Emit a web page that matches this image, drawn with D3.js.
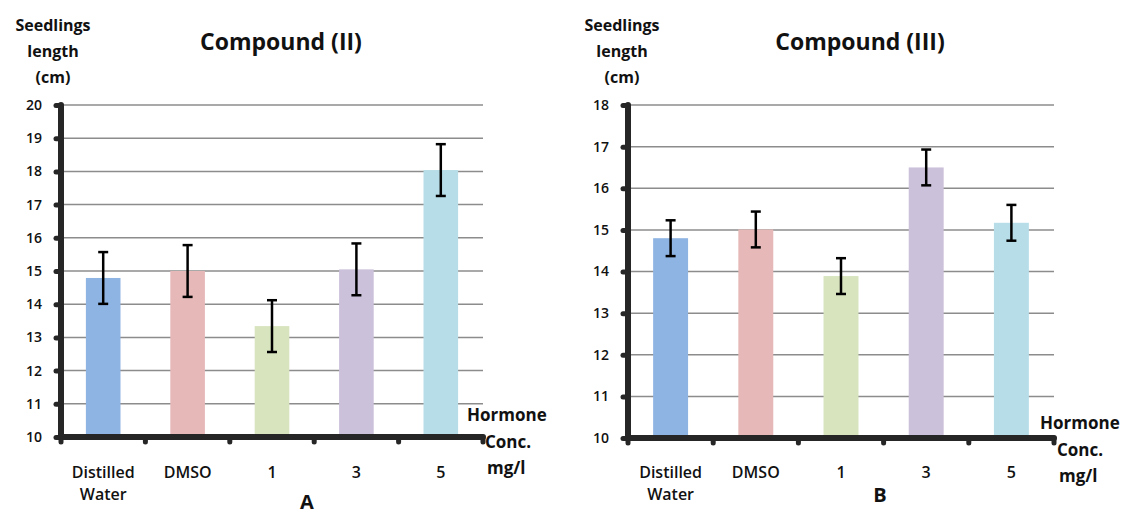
<!DOCTYPE html>
<html>
<head>
<meta charset="utf-8">
<script src="https://cdn.jsdelivr.net/npm/d3@7"></script>
<style>
  body { margin: 0; background: #fff; }
  svg text { font-family: "Open Sans", Lato, sans-serif; fill: #111; }
</style>
</head>
<body>
<div id="chart"></div>
<script>
// data
var categories = ["Distilled Water", "DMSO", "1", "3", "5"];
var barColors = ["#8eb4e3", "#e6b9b8", "#d7e4bd", "#ccc1da", "#b7dee8"];

var compound2Means = [14.79, 15.0, 13.34, 15.05, 18.04];
var compound2Errors = [0.78, 0.78, 0.78, 0.78, 0.78];
var compound2Ticks = [10, 11, 12, 13, 14, 15, 16, 17, 18, 19, 20];

var compound3Means = [14.8, 15.01, 13.89, 16.5, 15.17];
var compound3Errors = [0.43, 0.43, 0.43, 0.43, 0.43];
var compound3Ticks = [10, 11, 12, 13, 14, 15, 16, 17, 18];

var svg = d3.select("#chart")
  .append("svg")
  .attr("width", 1139)
  .attr("height", 516);

function drawPanel(opts) {
  var left = opts.left, top = 105, bottom = opts.bottom, right = opts.right;

  var x = d3.scaleBand()
    .domain(categories)
    .range([left, right]);

  var y = d3.scaleLinear()
    .domain([opts.ticks[0], opts.ticks[opts.ticks.length - 1]])
    .range([bottom, top]);

  var data = categories.map(function(c, i) {
    return { cat: c, value: opts.means[i], err: opts.errors[i], color: barColors[i] };
  });

  var g = svg.append("g");

  // gridlines
  g.selectAll(".grid")
    .data(opts.ticks.slice(1))
    .enter().append("line")
    .attr("x1", left).attr("x2", right)
    .attr("y1", function(d) { return y(d); })
    .attr("y2", function(d) { return y(d); })
    .attr("stroke", "#8c8c8c")
    .attr("stroke-width", 1.5);

  // bars
  var barW = x.bandwidth() * 0.41;
  g.selectAll(".bar")
    .data(data)
    .enter().append("rect")
    .attr("x", function(d) { return x(d.cat) + x.bandwidth() / 2 - barW / 2; })
    .attr("y", function(d) { return y(d.value); })
    .attr("width", barW)
    .attr("height", function(d) { return bottom - y(d.value); })
    .attr("fill", function(d) { return d.color; });

  // error bars
  var cap = 5;
  var eb = g.selectAll(".err").data(data).enter().append("g")
    .attr("stroke", "#000").attr("stroke-width", 2.5);
  eb.append("line")
    .attr("x1", function(d) { return x(d.cat) + x.bandwidth() / 2; })
    .attr("x2", function(d) { return x(d.cat) + x.bandwidth() / 2; })
    .attr("y1", function(d) { return y(d.value + d.err); })
    .attr("y2", function(d) { return y(d.value - d.err); });
  eb.append("line")
    .attr("x1", function(d) { return x(d.cat) + x.bandwidth() / 2 - cap; })
    .attr("x2", function(d) { return x(d.cat) + x.bandwidth() / 2 + cap; })
    .attr("y1", function(d) { return y(d.value + d.err); })
    .attr("y2", function(d) { return y(d.value + d.err); });
  eb.append("line")
    .attr("x1", function(d) { return x(d.cat) + x.bandwidth() / 2 - cap; })
    .attr("x2", function(d) { return x(d.cat) + x.bandwidth() / 2 + cap; })
    .attr("y1", function(d) { return y(d.value - d.err); })
    .attr("y2", function(d) { return y(d.value - d.err); });

  // y axis
  var yAxis = g.append("g")
    .attr("transform", "translate(" + left + ",0)")
    .call(d3.axisLeft(y).tickValues(opts.ticks).tickSize(5).tickPadding(14));
  yAxis.select(".domain").remove();
  yAxis.selectAll(".tick line")
    .attr("stroke", "#262626").attr("stroke-width", 5).attr("stroke-linecap", "round");
  yAxis.selectAll(".tick text")
    .style("font-size", "14px").style("font-weight", "600")
    .style("font-family", "'Open Sans', sans-serif").attr("fill", "#111");

  // x axis ticks at band edges
  var edges = categories.map(function(c) { return x(c); }).concat([right]);
  g.selectAll(".xtick")
    .data(edges)
    .enter().append("line")
    .attr("x1", function(d) { return d; }).attr("x2", function(d) { return d; })
    .attr("y1", bottom).attr("y2", bottom + 5)
    .attr("stroke", "#262626").attr("stroke-width", 5).attr("stroke-linecap", "round");

  // axis lines
  g.append("path")
    .attr("d", "M" + left + "," + top + "V" + bottom + "H" + right)
    .attr("fill", "none")
    .attr("stroke", "#262626")
    .attr("stroke-width", 6)
    .attr("stroke-linecap", "round")
    .attr("stroke-linejoin", "round");

  // category labels
  var labels = g.selectAll(".xlab")
    .data(categories)
    .enter().append("text")
    .attr("text-anchor", "middle")
    .attr("x", function(d) { return x(d) + x.bandwidth() / 2; })
    .attr("y", 478)
    .style("font-size", "16px").style("font-weight", "600");
  labels.each(function(d) {
    var words = d === "Distilled Water" ? ["Distilled", "Water"] : [d];
    var t = d3.select(this);
    words.forEach(function(w, i) {
      t.append("tspan")
        .attr("x", x(d) + x.bandwidth() / 2)
        .attr("dy", i === 0 ? 0 : 22)
        .text(w);
    });
  });

  // y title
  var yt = g.append("text")
    .attr("text-anchor", "middle")
    .attr("y", 31)
    .style("font-size", "16px").style("font-weight", "700");
  ["Seedlings", "length", "(cm)"].forEach(function(w, i) {
    yt.append("tspan").attr("x", opts.yTitleX).attr("dy", i === 0 ? 0 : 26).text(w);
  });

  // chart title
  g.append("text")
    .attr("x", opts.titleX).attr("y", 50)
    .attr("text-anchor", "middle")
    .style("font-size", "23px").style("font-weight", "700")
    .text(opts.title);

  // x title
  g.append("text").attr("x", opts.hormX).attr("y", opts.hormY)
    .style("font-size", "17px").style("font-weight", "700").text("Hormone");
  g.append("text").attr("x", opts.concX).attr("y", opts.hormY + 27)
    .style("font-size", "17px").style("font-weight", "700").text("Conc.");
  g.append("text").attr("x", opts.concX + 2).attr("y", opts.hormY + 53)
    .style("font-size", "17px").style("font-weight", "700").text("mg/l");

  // panel letter
  g.append("text")
    .attr("x", opts.letterX).attr("y", opts.letterY)
    .attr("text-anchor", "middle")
    .style("font-size", "20px").style("font-weight", "700")
    .text(opts.letter);
}

drawPanel({
  left: 61, right: 483, bottom: 437,
  means: compound2Means, errors: compound2Errors, ticks: compound2Ticks,
  title: "Compound (II)", titleX: 281, yTitleX: 53,
  hormX: 467, hormY: 421, concX: 485,
  letter: "A", letterX: 307, letterY: 509
});

drawPanel({
  left: 628, right: 1054, bottom: 438,
  means: compound3Means, errors: compound3Errors, ticks: compound3Ticks,
  title: "Compound (III)", titleX: 860, yTitleX: 622,
  hormX: 1040, hormY: 429, concX: 1057,
  letter: "B", letterX: 880, letterY: 502
});
</script>
</body>
</html>
